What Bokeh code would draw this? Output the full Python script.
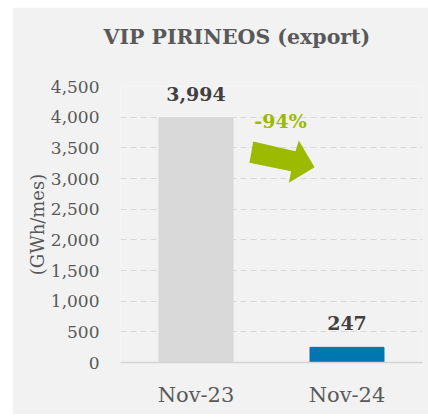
from bokeh.plotting import figure
from bokeh.models import (ColumnDataSource, FixedTicker, NumeralTickFormatter, Range1d,
                          Label, Spacer, Title)
from bokeh.layouts import row, column
from bokeh.embed import file_html
from bokeh.resources import INLINE

# ---- data ----
categories = ["Nov-23", "Nov-24"]
values = [3994, 247]
value_labels = ["3,994", "247"]
bar_colors = ["#d9d9d9", "#0077b0"]
change_label = "-94%"
y_ticks = [0, 500, 1000, 1500, 2000, 2500, 3000, 3500, 4000, 4500]
title_text = "VIP PIRINEOS (export)"
y_label = "(GWh/mes)"

FONT = "DejaVu Serif"
GREEN = "#9bba00"
TXT = "#595959"

xpos = [i + 0.5 for i in range(len(categories))]
src = ColumnDataSource(dict(x=xpos, top=values, lab=value_labels, color=bar_colors))

p = figure(width=416, height=407, output_backend="svg", toolbar_location=None,
           title=None,
           x_range=Range1d(0, len(categories)), y_range=Range1d(0, 4500),
           min_border_left=108, min_border_right=6, min_border_top=79, min_border_bottom=52)
p.background_fill_color = "#f2f2f2"
p.border_fill_color = "#f2f2f2"
p.outline_line_color = None

# empty spacer panel between frame and title, then the title itself
p.add_layout(Title(text=" ", text_font_size="1px", standoff=16), "above")
p.add_layout(Title(text=title_text, align="left", offset=-17, vertical_align="top", standoff=34,
                   text_font=FONT, text_font_style="bold", text_font_size="20.5px",
                   text_color=TXT), "above")

p.vbar(x="x", top="top", width=0.49, color="color", source=src)
p.text(x="x", y="top", text="lab", source=src, text_align="center", text_baseline="alphabetic",
       y_offset=-24, text_font={"value": FONT}, text_font_style="bold", text_font_size="19px",
       text_color="#404040")

# arrow (decorative annotation, data units)
ax = [0.879, 1.159, 1.181, 1.285, 1.115, 1.130, 0.854]
ay = [3603, 3445, 3620, 3184, 2930, 3119, 3256]
p.patch(ax, ay, color=GREEN, line_width=0)
p.add_layout(Label(x=1.06, y=3930, text=change_label, text_align="center", text_baseline="middle",
                   text_font=FONT, text_font_style="bold", text_font_size="19px", text_color=GREEN))

# axes
p.xaxis.ticker = FixedTicker(ticks=xpos)
p.xaxis.major_label_overrides = {x: c for x, c in zip(xpos, categories)}
p.xaxis.major_label_text_font = FONT
p.xaxis.major_label_text_font_size = "21px"
p.xaxis.major_label_text_color = TXT
p.xaxis.major_label_standoff = 14
p.xaxis.axis_line_color = "#d4d4d4"
p.xaxis.axis_line_width = 1.5
p.xaxis.major_tick_line_color = None
p.xaxis.minor_tick_line_color = None

p.yaxis.ticker = FixedTicker(ticks=y_ticks)
p.yaxis.formatter = NumeralTickFormatter(format="0,0")
p.yaxis.major_label_text_font = FONT
p.yaxis.major_label_text_font_size = "17px"
p.yaxis.major_label_text_color = TXT
p.yaxis.major_label_standoff = 15
p.yaxis.axis_line_color = None
p.yaxis.major_tick_line_color = None
p.yaxis.minor_tick_line_color = None
p.yaxis.axis_label = y_label
p.yaxis.axis_label_text_font = FONT
p.yaxis.axis_label_text_font_style = "normal"
p.yaxis.axis_label_text_font_size = "18px"
p.yaxis.axis_label_text_color = TXT
p.yaxis.axis_label_standoff = 0

p.xgrid.grid_line_color = None
p.ygrid.grid_line_color = "#d9d9d9"
p.ygrid.grid_line_dash = "6 4"
p.ygrid.grid_line_width = 1

layout = column(Spacer(width=428, height=7), row(Spacer(width=12, height=407), p))
open("out.html", "w").write(file_html(layout, INLINE))
